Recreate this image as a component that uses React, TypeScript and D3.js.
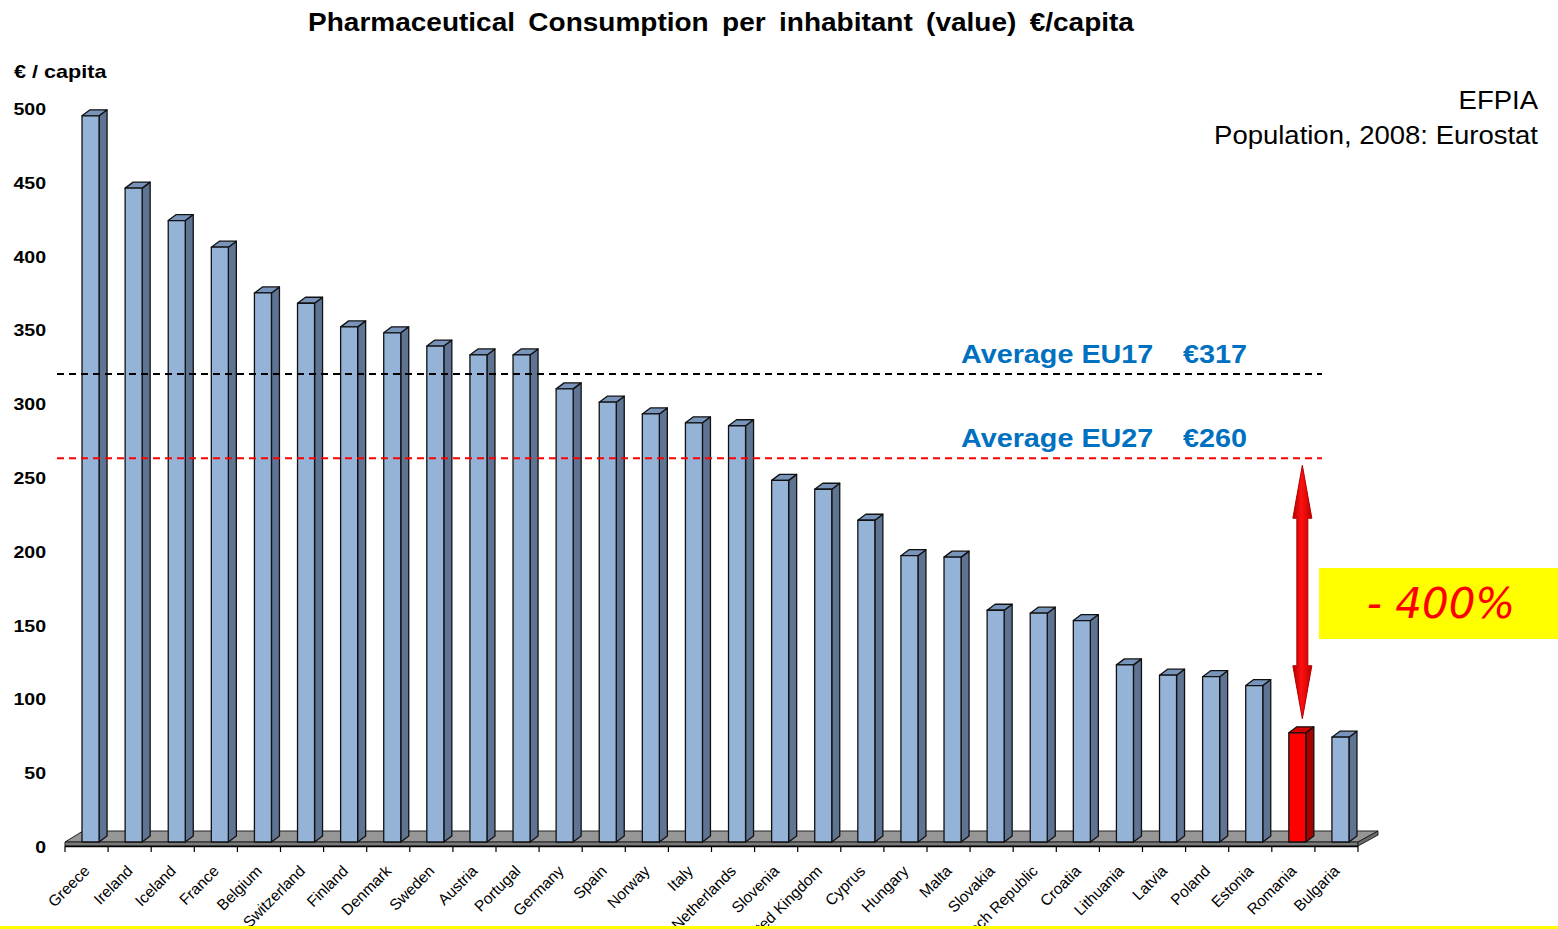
import React from "react";
import * as d3 from "d3";

const countries = [
  "Greece", "Ireland", "Iceland", "France", "Belgium", "Switzerland", "Finland",
  "Denmark", "Sweden", "Austria", "Portugal", "Germany", "Spain", "Norway", "Italy",
  "Netherlands", "Slovenia", "United Kingdom", "Cyprus", "Hungary", "Malta",
  "Slovakia", "Czech Republic", "Croatia", "Lithuania", "Latvia", "Poland",
  "Estonia", "Romania", "Bulgaria",
];
const values = [
  492, 443, 421, 403, 372, 365, 349, 345, 336, 330, 330, 307, 298, 290, 284,
  282, 245, 239, 218, 194, 193, 157, 155, 150, 120, 113, 112, 106, 74, 71,
];
const highlighted = "Romania";
const yTicks = [0, 50, 100, 150, 200, 250, 300, 350, 400, 450, 500];
const avgLabels = ["Average EU17", "Average EU27"];
const avgAmounts = ["€317", "€260"];
const avgValues = [317, 260];
const avgColors = ["#000000", "#FF0000"];
const title = "Pharmaceutical Consumption per inhabitant (value) €/capita";
const yAxisTitle = "€ / capita";
const sourceLines = ["EFPIA", "Population, 2008: Eurostat"];
const gapLabel = "- 400%";

const W = 1558;
const H = 929;
const FONT = "'Liberation Sans', Arial, sans-serif";

export default function App() {
  const x = d3.scaleBand<string>().domain(countries).range([65, 1358]).padding(0);
  const y = d3.scaleLinear().domain([0, 500]).range([842, 104]);
  const bw = x.bandwidth();
  const fw = bw * 0.395;
  const dx = 8;
  const dy = 6;
  const base = y(0);

  const floorTop = [[65, 842], [1358, 842], [1378, 831], [83, 831]];
  const floorFront = [[65, 842], [1358, 842], [1358, 846], [65, 846]];
  const floorSide = [[1358, 842], [1378, 831], [1378, 835], [1358, 846]];
  const pts = (p: number[][]) => p.map((q) => q.join(",")).join(" ");

  const romIdx = countries.indexOf(highlighted);
  const arrowX = (x(highlighted) as number) + bw * 0.395 + fw / 2 + 5;
  const arrowTop = y(260) + 7;
  const arrowBottom = y(values[romIdx]) - 14;
  const headL = 53;
  const headW = 9.5;
  const shaftW = 5.5;
  const arrowPts = [
    [arrowX, arrowTop],
    [arrowX + headW, arrowTop + headL],
    [arrowX + shaftW, arrowTop + headL],
    [arrowX + shaftW, arrowBottom - headL],
    [arrowX + headW, arrowBottom - headL],
    [arrowX, arrowBottom],
    [arrowX - headW, arrowBottom - headL],
    [arrowX - shaftW, arrowBottom - headL],
    [arrowX - shaftW, arrowTop + headL],
    [arrowX - headW, arrowTop + headL],
  ];

  return (
    <svg
      width={W}
      height={H}
      style={{ position: "absolute", left: 0, top: 0, display: "block", background: "#fff" }}
      fontFamily={FONT}
    >
      <defs>
        <linearGradient id="arrowGrad" x1="0" x2="1" y1="0" y2="0">
          <stop offset="0" stopColor="#B00000" />
          <stop offset="0.45" stopColor="#FF1010" />
          <stop offset="1" stopColor="#C00000" />
        </linearGradient>
      </defs>
      <rect x={0} y={0} width={W} height={H} fill="#fff" />

      {/* title */}
      <text
        transform={`translate(721,31) scale(1.12,1)`}
        textAnchor="middle"
        fontSize={25}
        fontWeight="bold"
        wordSpacing={5}
      >
        {title}
      </text>

      {/* y axis title */}
      <text transform="translate(14,78) scale(1.2,1)" fontSize={18} fontWeight="bold">
        {yAxisTitle}
      </text>

      {/* y tick labels */}
      {yTicks.map((t) => (
        <text
          key={t}
          transform={`translate(46,${y(t) + 11}) scale(1.15,1)`}
          textAnchor="end"
          fontSize={17}
          fontWeight="bold"
        >
          {t}
        </text>
      ))}

      {/* source */}
      {sourceLines.map((s, i) => (
        <text
          key={s}
          transform={`translate(1538,${109 + i * 35}) scale(1.1,1)`}
          textAnchor="end"
          fontSize={25}
        >
          {s}
        </text>
      ))}

      {/* floor */}
      <polygon points={pts(floorTop)} fill="#969696" stroke="#222" strokeWidth={1} />
      <polygon points={pts(floorFront)} fill="#7a7a7a" stroke="#222" strokeWidth={1} />
      <polygon points={pts(floorSide)} fill="#6a6a6a" stroke="#222" strokeWidth={1} />

      {/* x axis */}
      <line x1={65} x2={1358} y1={846.5} y2={846.5} stroke="#000" strokeWidth={1.5} />
      {countries.map((c) => (
        <line key={c} x1={x(c)} x2={x(c)} y1={846} y2={852} stroke="#000" strokeWidth={1.2} />
      ))}
      <line x1={1358} x2={1358} y1={846} y2={852} stroke="#000" strokeWidth={1.2} />

      {/* bars */}
      {countries.map((c, i) => {
        const fx = (x(c) as number) + bw * 0.395;
        const top = y(values[i]);
        const hi = c === highlighted;
        const front = hi ? "#FF0000" : "#95B3D7";
        const side = hi ? "#A80000" : "#5E7492";
        const topC = hi ? "#D40000" : "#7894BA";
        const side_ = [[fx + fw, base], [fx + fw + dx, base - dy], [fx + fw + dx, top - dy], [fx + fw, top]];
        const top_ = [[fx, top], [fx + dx, top - dy], [fx + fw + dx, top - dy], [fx + fw, top]];
        return (
          <g key={c} stroke="#111" strokeWidth={1.3} strokeLinejoin="round">
            <polygon points={pts(side_)} fill={side} />
            <polygon points={pts(top_)} fill={topC} />
            <rect x={fx} y={top} width={fw} height={base - top} fill={front} />
          </g>
        );
      })}

      {/* x labels */}
      {countries.map((c) => (
        <text
          key={c}
          transform={`translate(${(x(c) as number) + bw / 2 + 4},${872}) rotate(-45)`}
          textAnchor="end"
          fontSize={15.5}
          fill="#000"
        >
          {c}
        </text>
      ))}

      {/* averages */}
      {avgValues.map((v, i) => (
        <g key={v}>
          <line
            x1={57}
            x2={1322}
            y1={y(v)}
            y2={y(v)}
            stroke={avgColors[i]}
            strokeWidth={2}
            strokeDasharray="7,5"
          />
          <text
            transform={`translate(961,${y(v) - 11}) scale(1.15,1)`}
            fontSize={25}
            fontWeight="bold"
            fill="#0070C0"
          >
            {avgLabels[i]}
          </text>
          <text
            transform={`translate(1183,${y(v) - 11}) scale(1.15,1)`}
            fontSize={25}
            fontWeight="bold"
            fill="#0070C0"
          >
            {avgAmounts[i]}
          </text>
        </g>
      ))}

      {/* arrow */}
      <polygon points={pts(arrowPts)} fill="url(#arrowGrad)" stroke="#B00000" strokeWidth={1} />

      {/* gap box */}
      <rect x={1319} y={568} width={W - 1319} height={71} fill="#FFFF00" />
      <text
        x={1441}
        y={618}
        textAnchor="middle"
        fontSize={42}
        fontStyle="italic"
        fontFamily="'DejaVu Sans', Verdana, sans-serif"
        fill="#FF0000"
      >
        {gapLabel}
      </text>

      {/* bottom yellow rule */}
      <rect x={0} y={926} width={W} height={3} fill="#FFFF00" />
    </svg>
  );
}
